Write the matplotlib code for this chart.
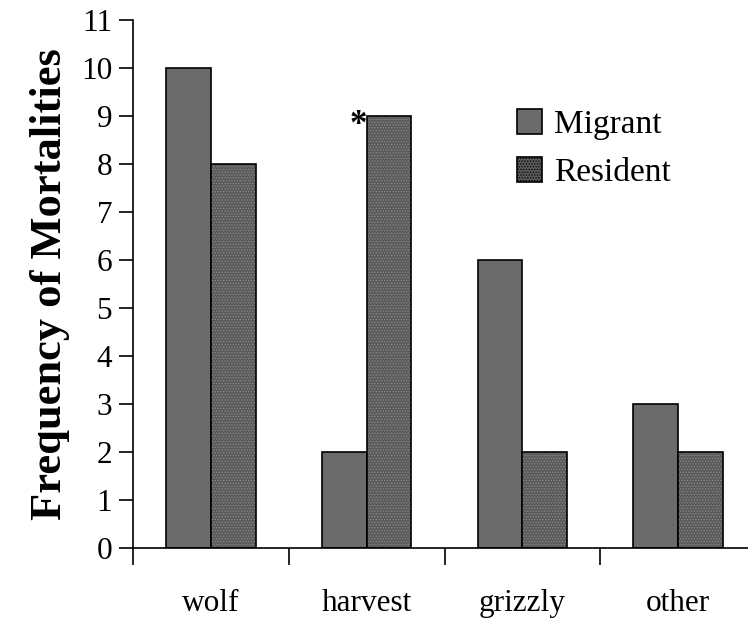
import matplotlib
matplotlib.use("Agg")
import matplotlib.pyplot as plt
import numpy as np
from matplotlib.patches import Patch

categories = ["wolf", "harvest", "grizzly", "other"]
migrant = [10, 2, 6, 3]
resident = [8, 9, 2, 2]
yticks = list(range(0, 12))

plt.rcParams['font.family'] = ['Liberation Serif', 'DejaVu Serif']
plt.rcParams['hatch.linewidth'] = 0.6

fig = plt.figure(figsize=(7.48, 6.22), dpi=100)
ax = fig.add_axes([133/748, (622-548)/622, (756-133)/748, (548-20)/622])

x = np.arange(len(categories))
w = 0.288
ax.bar(x - w/2, migrant, w, color='#6b6b6b', edgecolor='black', linewidth=1.2, zorder=2)
ax.bar(x + w/2, resident, w, color='#5a5a5a', edgecolor='#8a8a8a', hatch='......', linewidth=0, zorder=2)
ax.bar(x + w/2, resident, w, fill=False, edgecolor='black', linewidth=1.2, zorder=3)

h1 = Patch(facecolor='#6b6b6b', edgecolor='black', linewidth=1.2, label='Migrant')
h2 = Patch(facecolor='#5a5a5a', edgecolor='black', hatch='......', linewidth=1.2, label='Resident')

ax.text(x[1] - 0.055, 8.62, '*', ha='center', va='baseline', fontsize=25, fontweight='bold')

ax.set_xlim(-0.5, 3.5)
ax.set_ylim(0, 11)
ax.set_yticks(yticks)
ax.tick_params(axis='y', direction='out', length=10, width=1.2, labelsize=22.5, pad=5)
ax.set_xticks(np.arange(len(categories) + 1) - 0.5)
ax.set_xticklabels([])
ax.set_xticks(x, minor=True)
ax.set_xticklabels(categories, minor=True, fontsize=22.5)
ax.tick_params(axis='x', which='major', direction='out', length=12, width=1.2)
ax.tick_params(axis='x', which='minor', length=0, pad=29.5)
for s in ['top', 'right']:
    ax.spines[s].set_visible(False)
for s in ['left', 'bottom']:
    ax.spines[s].set_linewidth(1.2)

ax.set_ylabel('Frequency of Mortalities', fontsize=32, fontweight='bold', labelpad=8)

ax.legend(handles=[h1, h2], loc='upper left', bbox_to_anchor=((504-133)/623, (622-96-74)/528),
          frameon=False, fontsize=24, handlelength=0.75, handleheight=0.75, handletextpad=0.35,
          labelspacing=0.52, borderaxespad=0)

fig.savefig('out.png', dpi=100)
